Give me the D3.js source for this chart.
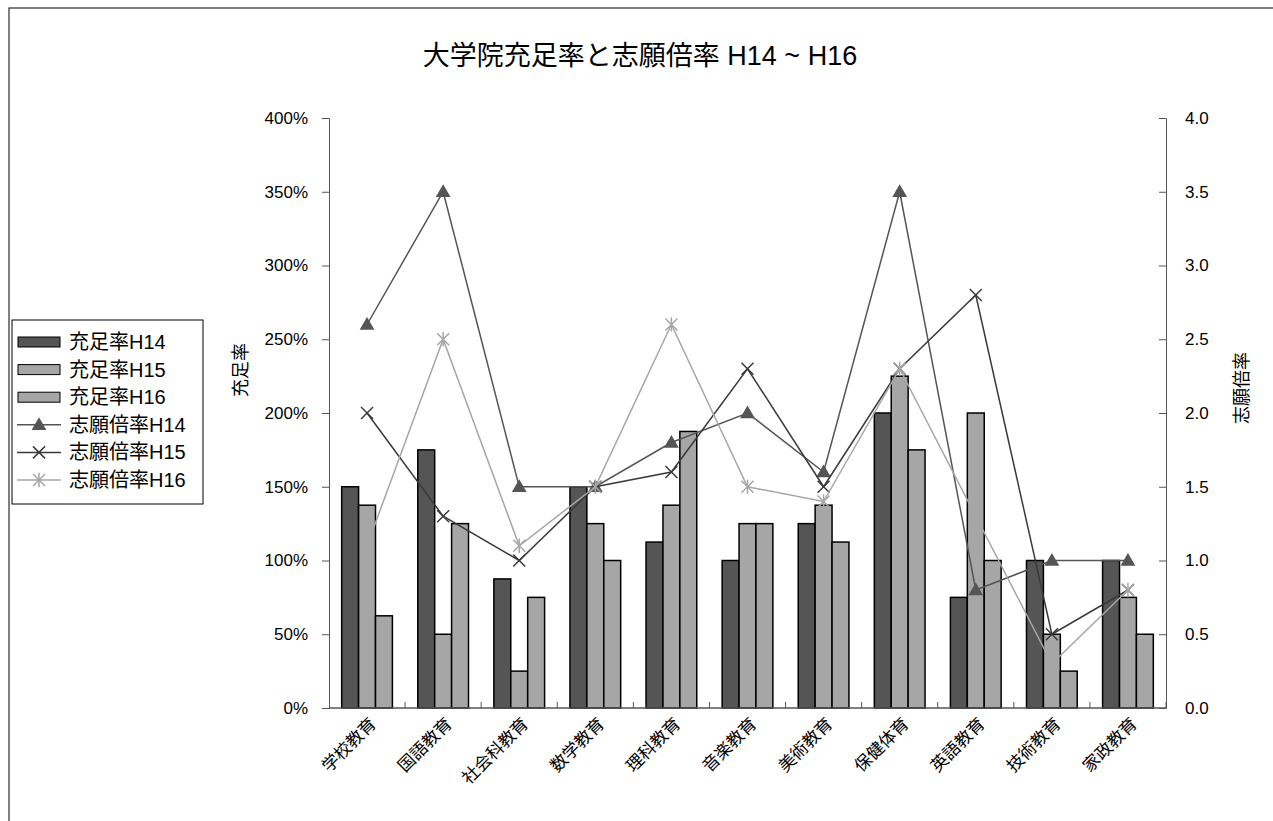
<!DOCTYPE html>
<html>
<head>
<meta charset="utf-8">
<script src="https://cdn.jsdelivr.net/npm/d3@7"></script>
<style>
  body { margin: 0; background: #fff; }
  text { font-family: "Liberation Sans", Arial, "Noto Sans CJK JP", sans-serif; fill: #000; }
</style>
</head>
<body>
<svg id="chart" width="1273" height="821"></svg>
<script>
// chart data
const categories = ["学校教育", "国語教育", "社会科教育", "数学教育", "理科教育", "音楽教育", "美術教育", "保健体育", "英語教育", "技術教育", "家政教育"];
const fillH14 = [150, 175, 87.5, 150, 112.5, 100, 125, 200, 75, 100, 100];
const fillH15 = [137.5, 50, 25, 125, 137.5, 125, 137.5, 225, 200, 50, 75];
const fillH16 = [62.5, 125, 75, 100, 187.5, 125, 112.5, 175, 100, 25, 50];
const ratioH14 = [2.6, 3.5, 1.5, 1.5, 1.8, 2.0, 1.6, 3.5, 0.8, 1.0, 1.0];
const ratioH15 = [2.0, 1.3, 1.0, 1.5, 1.6, 2.3, 1.5, 2.3, 2.8, 0.5, 0.8];
const ratioH16 = [1.1, 2.5, 1.1, 1.5, 2.6, 1.5, 1.4, 2.3, 1.3, 0.3, 0.8];
const leftTicks = [0, 50, 100, 150, 200, 250, 300, 350, 400];
const rightTicks = [0, 0.5, 1.0, 1.5, 2.0, 2.5, 3.0, 3.5, 4.0];

const barSeries = [
  { name: "充足率H14", values: fillH14, color: "#555555" },
  { name: "充足率H15", values: fillH15, color: "#a6a6a6" },
  { name: "充足率H16", values: fillH16, color: "#a6a6a6" }
];
const lineSeries = [
  { name: "志願倍率H14", values: ratioH14, color: "#555555", marker: "triangle" },
  { name: "志願倍率H15", values: ratioH15, color: "#3a3a3a", marker: "x" },
  { name: "志願倍率H16", values: ratioH16, color: "#a6a6a6", marker: "star" }
];

// plot area
const plot = { left: 329, right: 1166, top: 118, bottom: 708 };

const svg = d3.select("#chart");

// outer frame (only left / top visible in the picture)
svg.append("rect")
  .attr("x", 9).attr("y", 8)
  .attr("width", 1400).attr("height", 1000)
  .attr("fill", "none").attr("stroke", "#000").attr("stroke-width", 1);

// scales
const x0 = d3.scaleBand().domain(categories).range([plot.left, plot.right]).padding(0);
const x1 = d3.scaleBand().domain(barSeries.map(d => d.name))
  .range([0, x0.bandwidth()]).paddingInner(0).paddingOuter(0.75);
const yLeft = d3.scaleLinear().domain([0, 400]).range([plot.bottom, plot.top]);
const yRight = d3.scaleLinear().domain([0, 4]).range([plot.bottom, plot.top]);

// title
svg.append("text")
  .attr("x", 640).attr("y", 65)
  .attr("text-anchor", "middle")
  .style("font-size", "27px")
  .text("大学院充足率と志願倍率 H14 ~ H16");

// bars
barSeries.forEach(function(s) {
  svg.append("g").selectAll("rect")
    .data(s.values)
    .enter()
    .append("rect")
    .attr("x", (d, i) => x0(categories[i]) + x1(s.name))
    .attr("y", d => yLeft(d))
    .attr("width", x1.bandwidth())
    .attr("height", d => yLeft(0) - yLeft(d))
    .attr("fill", s.color)
    .attr("stroke", "#000")
    .attr("stroke-width", 1.5);
});

// left axis
const leftAxis = svg.append("g")
  .attr("transform", "translate(" + plot.left + ",0)")
  .call(d3.axisLeft(yLeft).tickValues(leftTicks).tickFormat(d => d + "%").tickSizeOuter(0).tickSize(7).tickPadding(14));
leftAxis.selectAll("path, line").attr("stroke", "#555");
leftAxis.selectAll("text").style("font-size", "17px");

// right axis
const rightAxis = svg.append("g")
  .attr("transform", "translate(" + plot.right + ",0)")
  .call(d3.axisRight(yRight).tickValues(rightTicks).tickFormat(d3.format(".1f")).tickSizeOuter(0).tickSize(-7).tickPadding(19));
rightAxis.selectAll("path, line").attr("stroke", "#555");
rightAxis.selectAll("text").style("font-size", "17px");

// bottom axis with ticks at category boundaries
const bottom = svg.append("g");
bottom.append("line")
  .attr("x1", plot.left).attr("x2", plot.right)
  .attr("y1", plot.bottom).attr("y2", plot.bottom)
  .attr("stroke", "#555").attr("stroke-width", 1.5);
bottom.selectAll("line.tick")
  .data(categories)
  .enter()
  .append("line")
  .attr("class", "tick")
  .attr("x1", d => x0(d) + x0.bandwidth()).attr("x2", d => x0(d) + x0.bandwidth())
  .attr("y1", plot.bottom).attr("y2", plot.bottom - 6)
  .attr("stroke", "#555");
bottom.selectAll("text")
  .data(categories)
  .enter()
  .append("text")
  .attr("transform", d => "translate(" + (x0(d) + x0.bandwidth() / 2 + 10) + "," + (plot.bottom + 17) + ") rotate(-45)")
  .attr("text-anchor", "end")
  .style("font-size", "17px")
  .text(d => d);

// axis titles
svg.append("text")
  .attr("transform", "translate(247,370) rotate(-90)")
  .attr("text-anchor", "middle")
  .style("font-size", "18px")
  .text("充足率");
svg.append("text")
  .attr("transform", "translate(1248,388) rotate(-90)")
  .attr("text-anchor", "middle")
  .style("font-size", "18px")
  .text("志願倍率");

// marker drawing
function drawMarker(g, type, color) {
  if (type === "triangle") {
    g.append("path")
      .attr("d", d3.symbol().type(d3.symbolTriangle).size(95)())
      .attr("transform", "translate(0,1)")
      .attr("fill", color);
  } else {
    const r = 6;
    g.append("path")
      .attr("d", "M" + -r + "," + -r + "L" + r + "," + r + "M" + -r + "," + r + "L" + r + "," + -r)
      .attr("stroke", color).attr("stroke-width", 1.5).attr("fill", "none");
    if (type === "star") {
      g.append("path")
        .attr("d", "M0," + -r * 1.2 + "L0," + r * 1.2)
        .attr("stroke", color).attr("stroke-width", 1.5);
    }
  }
}

// lines
const line = d3.line()
  .x((d, i) => x0(categories[i]) + x0.bandwidth() / 2)
  .y(d => yRight(d));

lineSeries.forEach(function(s) {
  svg.append("path")
    .datum(s.values)
    .attr("d", line)
    .attr("fill", "none")
    .attr("stroke", s.color)
    .attr("stroke-width", 1.5);
  svg.append("g").selectAll("g")
    .data(s.values)
    .enter()
    .append("g")
    .attr("transform", (d, i) => "translate(" + (x0(categories[i]) + x0.bandwidth() / 2) + "," + yRight(d) + ")")
    .each(function() { drawMarker(d3.select(this), s.marker, s.color); });
});

// legend
const legend = svg.append("g");
legend.append("rect")
  .attr("x", 12).attr("y", 320)
  .attr("width", 191).attr("height", 184)
  .attr("fill", "#fff").attr("stroke", "#000");

const legendItems = barSeries.map(d => ({ name: d.name, color: d.color, kind: "bar" }))
  .concat(lineSeries.map(d => ({ name: d.name, color: d.color, kind: d.marker })));

legendItems.forEach(function(item, i) {
  const cy = 342 + i * 27.6;
  if (item.kind === "bar") {
    legend.append("rect")
      .attr("x", 18).attr("y", cy - 5)
      .attr("width", 42).attr("height", 10)
      .attr("fill", item.color).attr("stroke", "#000").attr("stroke-width", 1);
  } else {
    legend.append("line")
      .attr("x1", 17).attr("x2", 61)
      .attr("y1", cy).attr("y2", cy)
      .attr("stroke", item.color).attr("stroke-width", 1.5);
    drawMarker(legend.append("g").attr("transform", "translate(39," + cy + ")"), item.kind, item.color);
  }
  legend.append("text")
    .attr("x", 69).attr("y", cy + 7)
    .style("font-size", "20px")
    .text(item.name);
});
</script>
</body>
</html>
